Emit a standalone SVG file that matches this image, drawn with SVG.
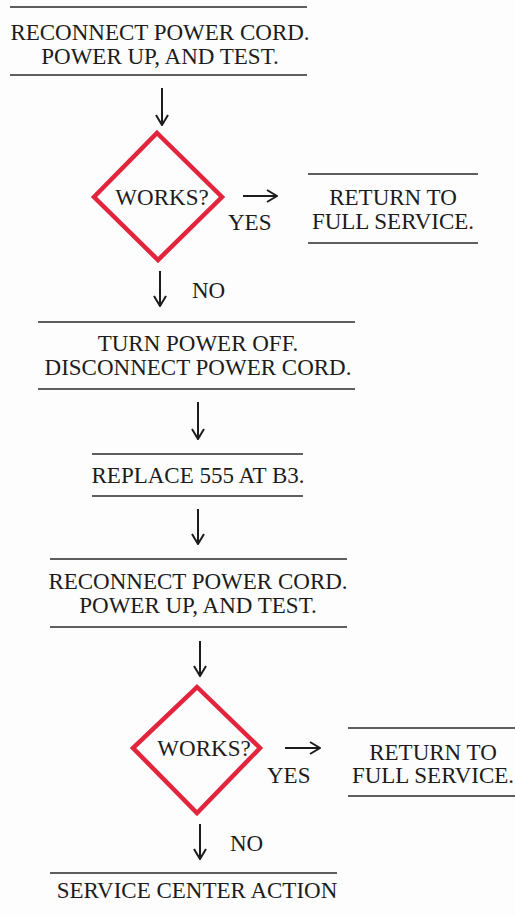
<svg xmlns="http://www.w3.org/2000/svg" width="515" height="915" viewBox="0 0 515 915">
<defs>
<marker id="ah" viewBox="0 0 12 14" refX="11" refY="7" markerWidth="12" markerHeight="14" markerUnits="userSpaceOnUse" orient="auto">
<path d="M1,1 L11,7 L1,13" fill="none" stroke="#1c1c1c" stroke-width="2"/>
</marker>
</defs>
<style>
text{font-family:"Liberation Serif","Times New Roman",serif;font-size:23px;fill:#1c1c1c;text-anchor:middle}
.rule{stroke:#2a2a2a;stroke-width:1.6}
.dia{fill:none;stroke:#e2243c;stroke-width:4.5;stroke-linejoin:miter}
.conn{stroke:#1c1c1c;stroke-width:2;fill:none}
.lbl{text-anchor:start}
</style>
<rect width="515" height="915" fill="#fdfdfd"/>
<g id="connectors">
<line class="conn" x1="162" y1="88" x2="162" y2="125" marker-end="url(#ah)"/>
<line class="conn" x1="243" y1="196" x2="277" y2="196" marker-end="url(#ah)"/>
<line class="conn" x1="160" y1="271" x2="160" y2="306" marker-end="url(#ah)"/>
<line class="conn" x1="198" y1="402" x2="198" y2="439" marker-end="url(#ah)"/>
<line class="conn" x1="198" y1="509" x2="198" y2="544" marker-end="url(#ah)"/>
<line class="conn" x1="200" y1="641" x2="200" y2="676" marker-end="url(#ah)"/>
<line class="conn" x1="285" y1="748" x2="320" y2="748" marker-end="url(#ah)"/>
<line class="conn" x1="200" y1="824" x2="200" y2="859" marker-end="url(#ah)"/>
<text class="lbl" x="228" y="230">YES</text>
<text class="lbl" x="192" y="298">NO</text>
<text class="lbl" x="267" y="783">YES</text>
<text class="lbl" x="230" y="851">NO</text>
</g>
<g id="step1">
<line class="rule" x1="10" y1="7" x2="307" y2="7"/>
<text x="160" y="40">RECONNECT POWER CORD.</text>
<text x="160" y="64">POWER UP, AND TEST.</text>
<line class="rule" x1="10" y1="75" x2="307" y2="75"/>
</g>
<g id="decision1">
<path class="dia" d="M157,133 L222,197 L158,260 L94,197 Z"/>
<text x="162" y="205">WORKS?</text>
</g>
<g id="return1">
<line class="rule" x1="308" y1="174" x2="478" y2="174"/>
<text x="393" y="205">RETURN TO</text>
<text x="393" y="229">FULL SERVICE.</text>
<line class="rule" x1="308" y1="243" x2="478" y2="243"/>
</g>
<g id="step2">
<line class="rule" x1="38" y1="322" x2="355" y2="322"/>
<text x="198" y="351">TURN POWER OFF.</text>
<text x="198" y="375">DISCONNECT POWER CORD.</text>
<line class="rule" x1="38" y1="389" x2="355" y2="389"/>
</g>
<g id="step3">
<line class="rule" x1="92" y1="454" x2="303" y2="454"/>
<text x="198" y="483">REPLACE 555 AT B3.</text>
<line class="rule" x1="92" y1="496" x2="303" y2="496"/>
</g>
<g id="step4">
<line class="rule" x1="50" y1="559" x2="347" y2="559"/>
<text x="198" y="589">RECONNECT POWER CORD.</text>
<text x="198" y="613">POWER UP, AND TEST.</text>
<line class="rule" x1="50" y1="627" x2="347" y2="627"/>
</g>
<g id="decision2">
<path class="dia" d="M197,687 L260,748 L197,813 L133,748 Z"/>
<text x="204" y="756">WORKS?</text>
</g>
<g id="return2">
<line class="rule" x1="348" y1="728" x2="515" y2="728"/>
<text x="433" y="760">RETURN TO</text>
<text x="433" y="783">FULL SERVICE.</text>
<line class="rule" x1="348" y1="796" x2="515" y2="796"/>
</g>
<g id="service">
<line class="rule" x1="50" y1="873" x2="337" y2="873"/>
<text x="197" y="898">SERVICE CENTER ACTION</text>
</g>
</svg>
